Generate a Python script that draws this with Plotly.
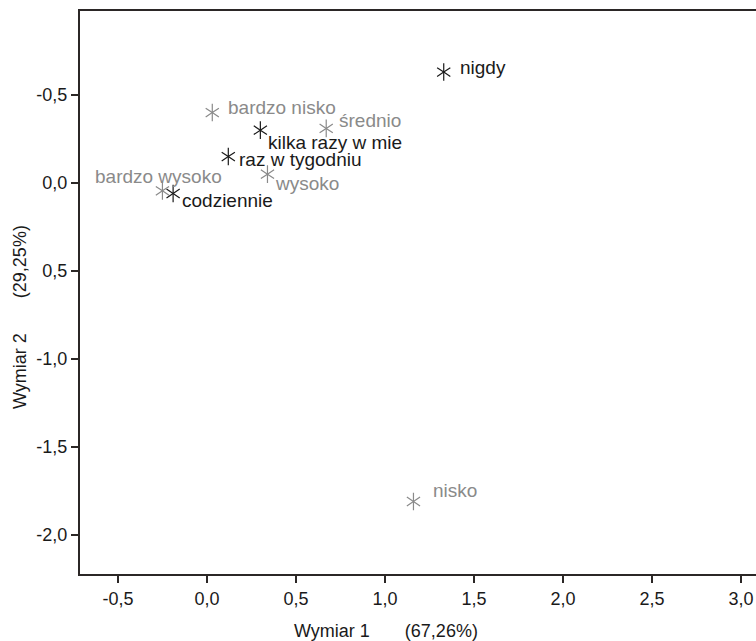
import plotly.graph_objects as go

# Data (correspondence analysis coordinates)
freq_labels = ["nigdy", "kilka razy w mie", "raz w tygodniu", "codziennie"]
freq_x = [1.33, 0.30, 0.12, -0.19]
freq_y = [0.63, 0.30, 0.15, -0.06]

level_labels = ["bardzo nisko", "średnio", "wysoko", "bardzo wysoko", "nisko"]
level_x = [0.03, 0.67, 0.34, -0.25, 1.16]
level_y = [0.40, 0.31, 0.05, -0.045, -1.81]

x_ticks = [-0.5, 0.0, 0.5, 1.0, 1.5, 2.0, 2.5, 3.0]
x_ticktext = ["-0,5", "0,0", "0,5", "1,0", "1,5", "2,0", "2,5", "3,0"]
y_ticks = [0.5, 0.0, -0.5, -1.0, -1.5, -2.0]
y_ticktext = ["-0,5", "0,0", "0,5", "-1,0", "-1,5", "-2,0"]

# Styling (label offsets in px)
freq_offsets = [(14, 5, "left"), (6, -12, "left"), (9, -3, "left"), (7, -7, "left")]
level_offsets = [(14, 5, "left"), (11, 8, "left"), (6, -9, "left"), (-4, 14, "center"), (18, 11, "left")]

BLACK = "#1a1a1a"
GRAY = "#8a8a8a"
AXIS = "#2b2726"
FONT = "Liberation Sans, Arial, sans-serif"

W, H = 756, 641
ml, mr, mt, mb = 80, 0, 11, 67
pw, ph = W - ml - mr, H - mt - mb


def paper_x(px):
    return (px - ml) / pw


def paper_y(py):
    return 1 - (py - mt) / ph


fig = go.Figure()
for xs, ys, col in [(freq_x, freq_y, BLACK), (level_x, level_y, GRAY)]:
    for sym in ["y-up-open", "y-down-open"]:
        fig.add_trace(go.Scatter(
            x=xs, y=ys, mode="markers",
            marker=dict(symbol=sym, size=11, color=col, line=dict(color=col, width=1.2)),
            hoverinfo="skip", showlegend=False))

annotations = []
for labels, xs, ys, offs, col in [(freq_labels, freq_x, freq_y, freq_offsets, BLACK),
                                   (level_labels, level_x, level_y, level_offsets, GRAY)]:
    for lab, x, y, (dx, dy, anc) in zip(labels, xs, ys, offs):
        annotations.append(dict(x=x, y=y, xref="x", yref="y", text=lab, showarrow=False,
                                xanchor=anc, yanchor="middle", xshift=dx, yshift=dy,
                                font=dict(family=FONT, size=19, color=col)))

gap = "&nbsp;" * 7
annotations.append(dict(x=paper_x(386), y=paper_y(631), xref="paper", yref="paper",
                        xanchor="center", yanchor="middle",
                        text="Wymiar 1" + gap + "(67,26%)",
                        showarrow=False, font=dict(family=FONT, size=18, color=BLACK)))
annotations.append(dict(x=paper_x(20), y=paper_y(317), xref="paper", yref="paper",
                        xanchor="center", yanchor="middle",
                        text="Wymiar 2" + gap + "(29,25%)", showarrow=False,
                        textangle=-90, font=dict(family=FONT, size=18, color=BLACK)))

fig.update_layout(
    width=W, height=H,
    margin=dict(l=ml, r=mr, t=mt, b=mb),
    paper_bgcolor="white", plot_bgcolor="white",
    annotations=annotations,
    xaxis=dict(range=[-0.713, 3.084], tickvals=x_ticks, ticktext=x_ticktext,
               showgrid=False, zeroline=False, showline=True, linecolor=AXIS, linewidth=2,
               mirror=True, ticks="outside", ticklen=7, tickwidth=2, tickcolor=AXIS,
               tickfont=dict(family=FONT, size=18, color=BLACK)),
    yaxis=dict(range=[-2.222, 0.977], tickvals=y_ticks, ticktext=y_ticktext,
               showgrid=False, zeroline=False, showline=True, linecolor=AXIS, linewidth=2,
               ticks="outside", ticklen=7, tickwidth=2, tickcolor=AXIS,
               tickfont=dict(family=FONT, size=18, color=BLACK)),
)

fig.write_html("out.html")
